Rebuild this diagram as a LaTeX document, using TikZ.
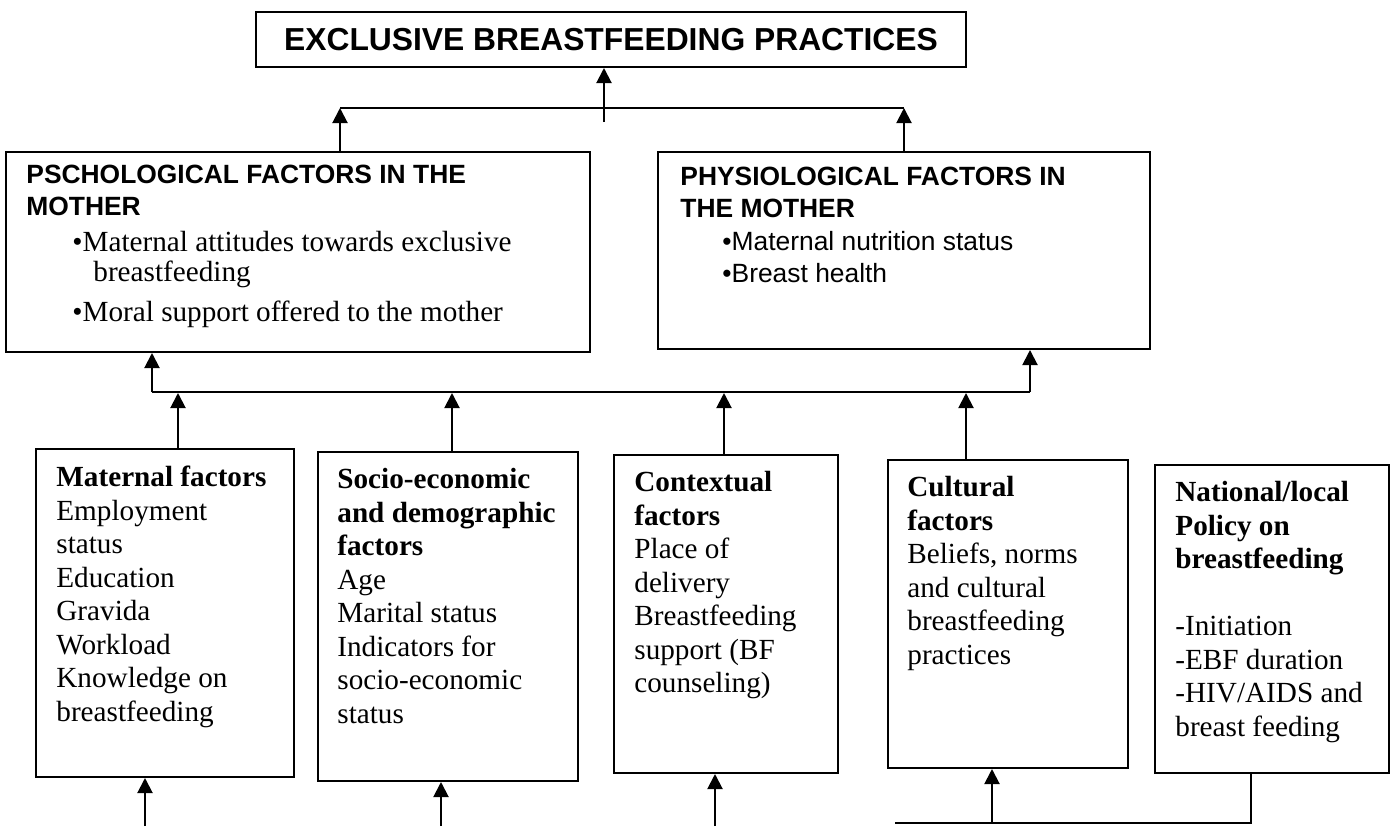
\documentclass[tikz,border=0pt]{standalone}
\usepackage{fontspec}
\setmainfont{Liberation Serif}
\setsansfont{Liberation Sans}
\usetikzlibrary{arrows.meta,positioning}

\begin{document}
\begin{tikzpicture}[
  x=0.5pt,y=-0.5pt,
  box/.style={draw,line width=1pt,inner sep=0pt},
  txt/.style={inner sep=0pt,align=left,anchor=north west,font=\fontsize{14.6}{16.75}\selectfont},
  head/.style={inner sep=0pt,align=left,anchor=north west,font=\sffamily\bfseries\fontsize{13.2}{16}\selectfont},
  arr/.style={-{Triangle[length=7.5pt,width=7.5pt]},line width=1pt},
  link/.style={line width=1pt}
]
  \useasboundingbox (0,0) rectangle (1392,826);

  \node[box,minimum width=355pt,minimum height=27.5pt,font=\sffamily\bfseries\fontsize{15.9}{18}\selectfont] (top) at (611,39.5) {EXCLUSIVE BREASTFEEDING PRACTICES};
  \node[box,minimum width=292pt,minimum height=100pt] (psy) at (298,252) {};
  \node[box,minimum width=246pt,minimum height=98.5pt] (phy) at (904,250.5) {};
  \node[box,minimum width=129pt,minimum height=164pt] (mat) at (165,613) {};
  \node[box,minimum width=130pt,minimum height=164.5pt] (soc) at (448,616.5) {};
  \node[box,minimum width=112pt,minimum height=159pt] (ctx) at (726,614) {};
  \node[box,minimum width=120pt,minimum height=154pt] (cul) at (1008,614) {};
  \node[box,minimum width=117pt,minimum height=154pt] (pol) at (1272,619) {};

  \node[head,below right=7pt and 10.5pt of psy.north west] (psyh) {PSCHOLOGICAL FACTORS IN THE\\MOTHER};
  \node[txt] (psyb) at (72,231) {\textbullet Maternal attitudes towards exclusive\\[-1.75pt]\hspace*{10.5pt}breastfeeding\\[3.25pt]\textbullet Moral support offered to the mother};
  \node[head,below right=8pt and 11.5pt of phy.north west] (phyh) {PHYSIOLOGICAL FACTORS IN\\THE MOTHER};
  \node[txt,font=\sffamily\fontsize{13.2}{16}\selectfont] (phyb) at (722,231) {\textbullet Maternal nutrition status\\\textbullet Breast health};

  \node[txt,below right=9pt and 10.5pt of mat.north west] (matt) {\textbf{Maternal factors}\\Employment\\status\\Education\\Gravida\\Workload\\Knowledge on\\breastfeeding};
  \node[txt,below right=8.5pt and 10pt of soc.north west] (soct) {\textbf{Socio-economic}\\\textbf{and demographic}\\\textbf{factors}\\Age\\Marital status\\Indicators for\\socio-economic\\status};
  \node[txt,below right=8.5pt and 10.5pt of ctx.north west] (ctxt) {\textbf{Contextual}\\\textbf{factors}\\Place of\\delivery\\Breastfeeding\\support (BF\\counseling)};
  \node[txt,below right=8.5pt and 10pt of cul.north west] (cult) {\textbf{Cultural}\\\textbf{factors}\\Beliefs, norms\\and cultural\\breastfeeding\\practices};
  \node[txt,below right=8.5pt and 10.5pt of pol.north west] (polt) {\textbf{National/local}\\\textbf{Policy on}\\\textbf{breastfeeding}\\[16.75pt]-Initiation\\-EBF duration\\-HIV/AIDS and\\breast feeding};

  \coordinate (ul) at (340,108);
  \coordinate (ur) at (904,108);
  \coordinate (uc) at (604,122);
  \draw[link] (ul) -- (ur);
  \draw[arr] (uc) -- (top.south -| uc);
  \draw[arr] (psy.north -| ul) -- (ul);
  \draw[arr] (phy.north -| ur) -- (ur);

  \coordinate (ll) at (152,392);
  \coordinate (lr) at (1030,392);
  \draw[link] (ll) -- (lr);
  \draw[arr] (ll) -- (psy.south -| ll);
  \draw[arr] (lr) -- (phy.south -| lr);

  \coordinate (a1) at (178,393);
  \coordinate (a2) at (452,393);
  \coordinate (a3) at (724,393);
  \coordinate (a4) at (966,393);
  \draw[arr] (mat.north -| a1) -- (a1);
  \draw[arr] (soc.north -| a2) -- (a2);
  \draw[arr] (ctx.north -| a3) -- (a3);
  \draw[arr] (cul.north -| a4) -- (a4);

  \coordinate (b1) at (145,826);
  \coordinate (b2) at (441,826);
  \coordinate (b3) at (715,826);
  \coordinate (b4) at (992,823);
  \draw[arr] (b1) -- (mat.south -| b1);
  \draw[arr] (b2) -- (soc.south -| b2);
  \draw[arr] (b3) -- (ctx.south -| b3);
  \draw[arr] (b4) -- (cul.south -| b4);

  \coordinate (pf) at (1251,823);
  \coordinate (pe) at (895,823);
  \draw[line width=0.6pt] (pol.south -| pf) -- (pf) -- (pe);
\end{tikzpicture}
\end{document}
